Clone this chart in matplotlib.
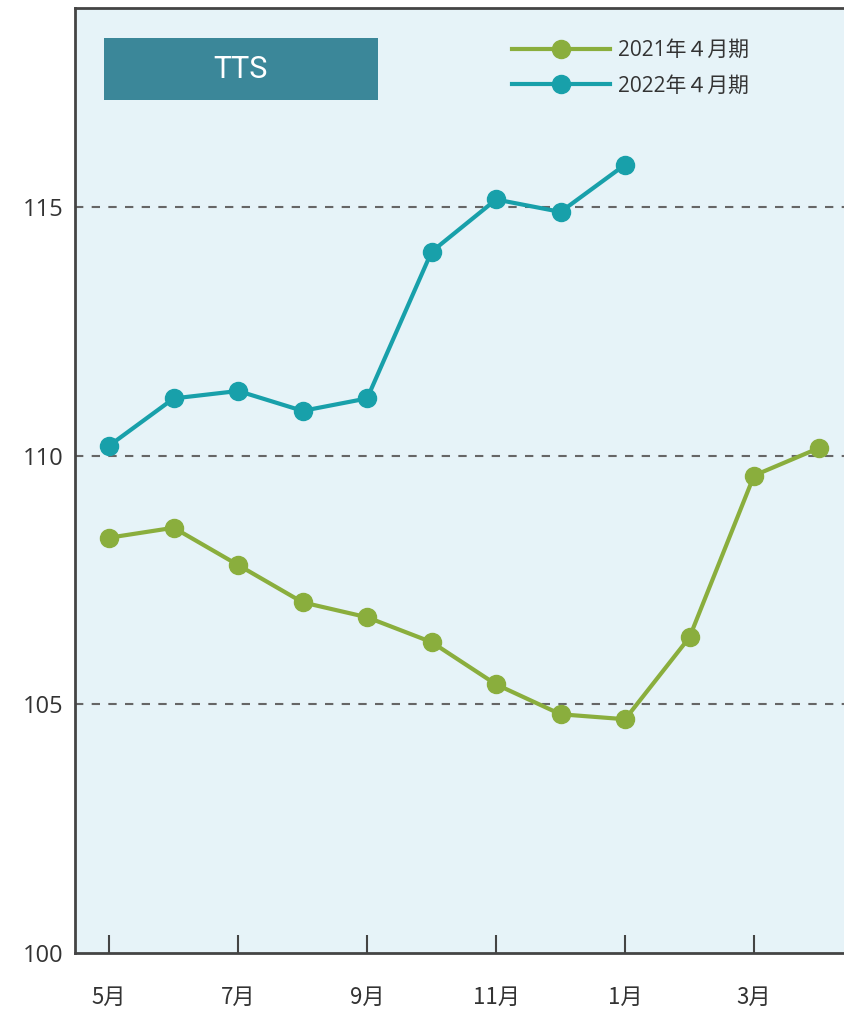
import matplotlib
matplotlib.use("Agg")
import matplotlib.pyplot as plt
from matplotlib.patches import Rectangle

plt.rcParams['font.family'] = ['Noto Sans CJK JP', 'DejaVu Sans']

months = ["5月", "6月", "7月", "8月", "9月", "10月", "11月", "12月", "1月", "2月", "3月", "4月"]
tick_labels = ["5月", "7月", "9月", "11月", "1月", "3月"]
series_2021 = [108.35, 108.55, 107.8, 107.05, 106.75, 106.25, 105.4, 104.8, 104.7, 106.35, 109.6, 110.15]
series_2022 = [110.2, 111.15, 111.3, 110.9, 111.15, 114.1, 115.15, 114.9, 115.85]
label_2021 = "2021年４月期"
label_2022 = "2022年４月期"
title = "TTS"

green = "#8AAE3D"
teal = "#18A0AA"
bg = "#E6F3F8"
dark = "#444444"

fig = plt.figure(figsize=(8.45, 10.14), dpi=100)
ax = fig.add_axes([75/845, 61/1014, 770/845, 945/1014])
ax.set_facecolor(bg)

x21 = list(range(len(series_2021)))
x22 = list(range(len(series_2022)))
ax.plot(x21, series_2021, color=green, lw=3, marker='o', ms=13, label=label_2021, zorder=3)
ax.plot(x22, series_2022, color=teal, lw=3, marker='o', ms=13, label=label_2022, zorder=3)

ax.set_xlim(-0.53, 11.41)
ax.set_ylim(100, 119)
ax.set_yticks([100, 105, 110, 115])
ax.set_xticks([0, 2, 4, 6, 8, 10])
ax.set_xticklabels(tick_labels)

for yv in [105, 110, 115]:
    ax.axhline(yv, color="#666666", lw=1.5, ls=(0, (4, 4)), zorder=1)

for s in ['left', 'bottom', 'top']:
    ax.spines[s].set_color(dark)
    ax.spines[s].set_linewidth(2)
ax.spines['right'].set_visible(False)

ax.tick_params(axis='x', direction='in', length=13, width=1.5, color=dark, pad=24,
               labelsize=16, labelcolor="#333333")
ax.tick_params(axis='y', length=0, pad=8, labelsize=17, labelcolor="#333333")
for lbl in ax.get_yticklabels():
    lbl.set_family(['Open Sans', 'DejaVu Sans'])

ax.add_patch(Rectangle((29/770, (953-100)/945), 274/770, 62/945, transform=ax.transAxes,
                       facecolor="#3B8799", edgecolor='none', zorder=4))
ax.text((29 + 137)/770, (953-69)/945, title, transform=ax.transAxes, ha='center', va='center',
        color='white', fontsize=22, zorder=5, family=['Roboto', 'DejaVu Sans'])

leg = ax.legend(loc='upper left', bbox_to_anchor=((512-75)/770, (953-40)/945), frameon=False,
                borderpad=0, borderaxespad=0, handlelength=4.7, handletextpad=0.4,
                labelspacing=0.7, fontsize=15)
for t in leg.get_texts():
    t.set_color("#333333")
    t.set_family(['Open Sans', 'Noto Sans CJK JP'])

fig.savefig("out.png", dpi=100)
